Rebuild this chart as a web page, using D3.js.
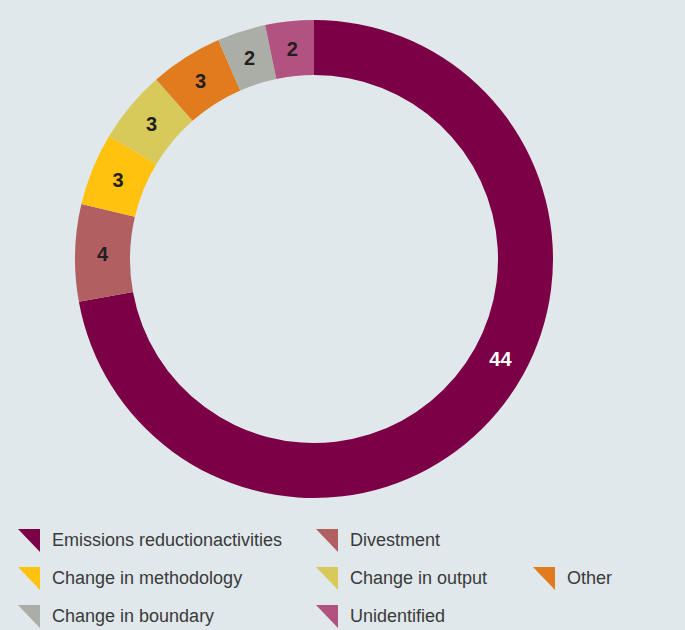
<!DOCTYPE html>
<meta charset="utf-8">
<style>
    body { margin: 0; background: #e0e8eb; }
    .legend text { font: 18px "Liberation Sans", Arial, sans-serif; fill: #3a3a3a; }
    .slice-label { font: bold 20px "Liberation Sans", Arial, sans-serif; text-anchor: middle; }
</style>
<body>
<script src="https://d3js.org/d3.v7.min.js"></script>
<script>
    // data
    var categories = ["Emissions reductionactivities", "Divestment", "Change in methodology",
        "Change in output", "Other", "Change in boundary", "Unidentified"];
    var values = [44, 4, 3, 3, 3, 2, 2];
    var colors = ["#7b0046", "#b15f60", "#ffc20e", "#d7ca5b", "#e07b1e", "#abaea6", "#b25280"];
    var labelColors = ["#ffffff", "#231f20", "#231f20", "#231f20", "#231f20", "#231f20", "#231f20"];

    var width = 685, height = 630;
    var cx = 314, cy = 259, outerR = 239, innerR = 184;

    var svg = d3.select("body").append("svg")
        .attr("width", width)
        .attr("height", height);

    svg.append("rect").attr("width", width).attr("height", height).attr("fill", "#e0e8eb");

    var g = svg.append("g").attr("transform", "translate(" + cx + "," + cy + ")");

    var pie = d3.pie().sort(null).value(function(d) { return d; });
    var arcs = pie(values);

    var arc = d3.arc().innerRadius(innerR).outerRadius(outerR);

    g.selectAll("path")
        .data(arcs)
        .enter().append("path")
        .attr("d", arc)
        .attr("fill", function(d, i) { return colors[i]; });

    // label radius in the middle of the ring; the big slice's label sits a bit earlier than its centre
    var labelR = (innerR + outerR) / 2;
    g.selectAll(".slice-label")
        .data(arcs)
        .enter().append("text")
        .attr("class", "slice-label")
        .attr("dy", "0.36em")
        .attr("fill", function(d, i) { return labelColors[i]; })
        .attr("transform", function(d, i) {
            var t = i === 0 ? 0.455 : 0.5;
            var a = d.startAngle + (d.endAngle - d.startAngle) * t;
            return "translate(" + (labelR * Math.sin(a)) + "," + (-labelR * Math.cos(a)) + ")";
        })
        .text(function(d) { return d.data; });

    // legend: three columns, three rows
    var legendPos = [[0, 0], [1, 0], [0, 1], [1, 1], [2, 1], [0, 2], [1, 2]];
    var colX = [18, 316, 533], rowY = [529, 567, 605];

    var legend = svg.append("g").attr("class", "legend")
        .selectAll("g")
        .data(categories)
        .enter().append("g")
        .attr("transform", function(d, i) {
            return "translate(" + colX[legendPos[i][0]] + "," + rowY[legendPos[i][1]] + ")";
        });

    legend.append("path")
        .attr("d", "M0,0L22,0L22,23Z")
        .attr("fill", function(d, i) { return colors[i]; });

    legend.append("text")
        .attr("x", 34)
        .attr("y", 17)
        .text(function(d) { return d; });
</script>
</body>
